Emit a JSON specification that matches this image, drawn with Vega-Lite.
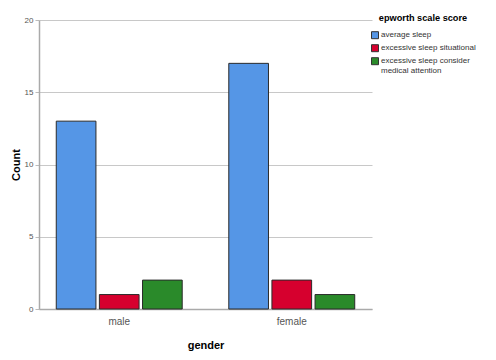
{
  "$schema": "https://vega.github.io/schema/vega-lite/v6.json",
  "width": 333,
  "height": 289,
  "autosize": {"type": "none"},
  "padding": {"left": 39, "top": 20, "right": 124, "bottom": 51},
  "background": "white",
  "config": {
    "font": "Liberation Sans",
    "view": {"stroke": null}
  },
  "data": {
    "values": [
      {"gender": "male", "score": "average sleep", "count": 13},
      {"gender": "male", "score": "excessive sleep situational", "count": 1},
      {"gender": "male", "score": "excessive sleep consider medical attention", "count": 2},
      {"gender": "female", "score": "average sleep", "count": 17},
      {"gender": "female", "score": "excessive sleep situational", "count": 2},
      {"gender": "female", "score": "excessive sleep consider medical attention", "count": 1}
    ]
  },
  "mark": {"type": "bar", "stroke": "#2b2b2b", "strokeWidth": 1},
  "encoding": {
    "x": {
      "field": "gender", "type": "nominal", "sort": ["male", "female"],
      "scale": {"paddingInner": 0.26, "paddingOuter": 0.095},
      "axis": {
        "title": "gender", "titleFontSize": 11, "titleFontWeight": "bold", "titleColor": "#000",
        "titlePadding": 13, "labelAngle": 0, "labelFontSize": 10, "labelColor": "#555",
        "labelPadding": 7, "ticks": false, "domainColor": "#aaa", "domainWidth": 1.5
      }
    },
    "xOffset": {
      "field": "score", "type": "nominal",
      "sort": ["average sleep", "excessive sleep situational", "excessive sleep consider medical attention"],
      "scale": {"paddingInner": 0.08, "paddingOuter": 0.02}
    },
    "y": {
      "field": "count", "type": "quantitative",
      "scale": {"domain": [0, 20]},
      "axis": {
        "title": "Count", "titleFontSize": 11, "titleFontWeight": "bold", "titleColor": "#000",
        "titlePadding": 3, "values": [0, 5, 10, 15, 20], "labelFontSize": 8, "labelColor": "#555",
        "tickColor": "#bbb", "tickSize": 4, "labelPadding": 2,
        "grid": true, "gridColor": "#c8c8c8", "domainColor": "#aaa", "domainWidth": 1.5
      }
    },
    "color": {
      "field": "score", "type": "nominal",
      "sort": ["average sleep", "excessive sleep situational", "excessive sleep consider medical attention"],
      "scale": {"range": ["#5596e6", "#d6002e", "#2a8a2a"]},
      "legend": {
        "title": "epworth scale score", "titleFontSize": 9.2, "titleFontWeight": "bold", "titleColor": "#000",
        "titleAnchor": "middle",
        "orient": "none", "legendX": 332, "legendY": -6,
        "labelFontSize": 8, "labelColor": "#333", "labelOffset": 2, "symbolType": "square", "symbolSize": 49,
        "symbolStrokeColor": "#333", "symbolStrokeWidth": 1, "rowPadding": 1, "titlePadding": 8,
        "labelExpr": "datum.label == 'excessive sleep consider medical attention' ? ['excessive sleep consider', 'medical attention'] : datum.label"
      }
    }
  }
}
